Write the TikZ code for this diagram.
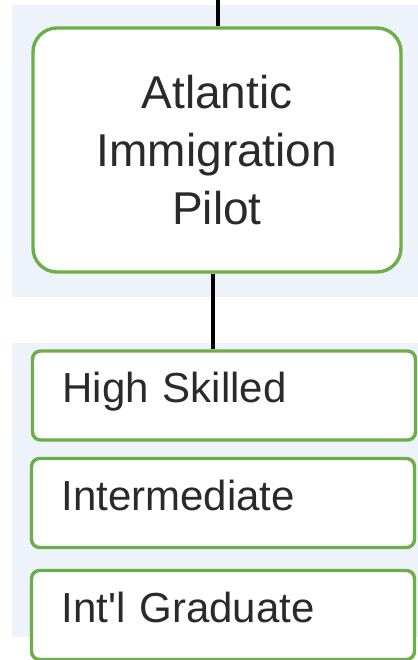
\documentclass[tikz,border=0pt]{standalone}
\usepackage{fontspec}
\setmainfont{Liberation Sans}[Ligatures=TeXOff]
\usetikzlibrary{positioning}
\definecolor{panelbg}{HTML}{EEF2FA}
\definecolor{boxgreen}{HTML}{6CAE47}
\definecolor{txtgrey}{HTML}{2A2A2A}

\begin{document}
\begin{tikzpicture}[x=0.5pt,y=-0.5pt,
  panel/.style={fill=panelbg,draw=none},
  pilotbox/.style={draw=boxgreen,line width=1.7pt,fill=white,rounded corners=12pt,
    minimum width=184pt,minimum height=122pt,align=center,text=txtgrey,
    font=\fontsize{23}{29}\selectfont},
  streambox/.style={draw=boxgreen,line width=1.7pt,fill=white,rounded corners=4pt,
    text width=161.5pt,inner xsep=15pt,align=left,minimum height=44.5pt,
    text height=0.72em,text depth=0pt,text=txtgrey,
    font=\fontsize{21}{25}\selectfont},
  link/.style={line width=2pt,black}]
  \useasboundingbox (0,0) rectangle (418,660);
  % background panels
  \fill[panel] (12,5) rectangle (418,297);
  \fill[panel] (12,343) rectangle (418,637);

  \node[pilotbox] (pilot) at (217,150) {Atlantic\\Immigration\\Pilot};
  \node[streambox] (high)  at (224,395.5) {High Skilled};
  \node[streambox] (inter) at (223,503)   {Intermediate};
  \node[streambox] (grad)  at (223,615)   {Int'l Graduate};

  \coordinate (feed) at (218,0);
  \draw[link,line width=2.4pt] (feed) -- (feed |- pilot.north);
  \draw[link] ([xshift=-2pt]pilot.south) -- ([xshift=-2pt]pilot.south |- high.north);
\end{tikzpicture}
\end{document}
